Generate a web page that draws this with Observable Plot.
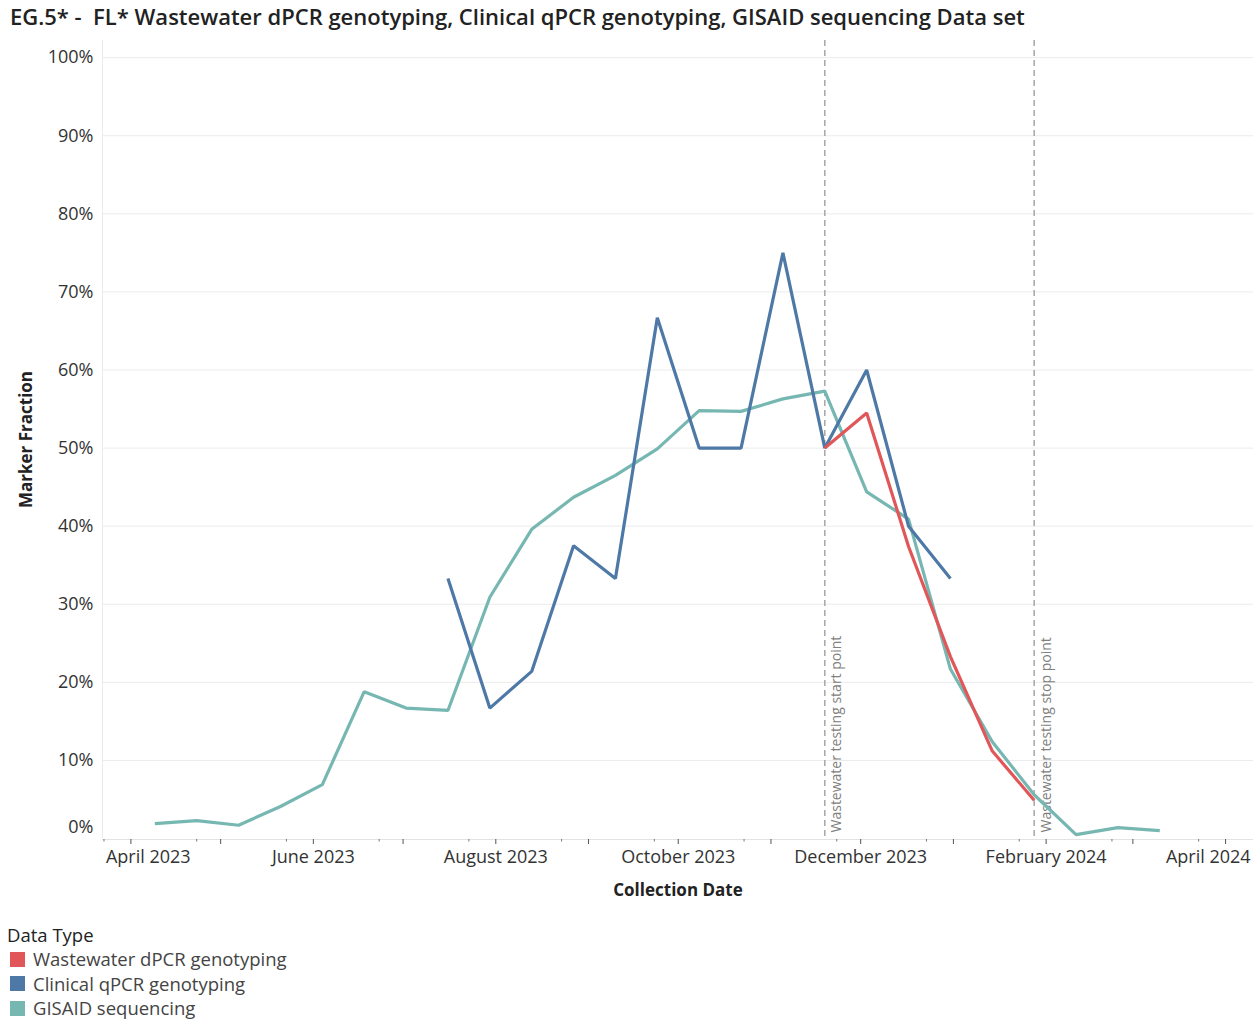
<!DOCTYPE html>
<html>
<head>
<meta charset="utf-8">
<script src="https://cdn.jsdelivr.net/npm/d3@7"></script>
<script src="https://cdn.jsdelivr.net/npm/@observablehq/plot@0.6"></script>
<style>
  body { margin: 0; background: #fff; font-family: "Open Sans", sans-serif; color: #333; }
  #title { height: 36px; line-height: 32px; padding-left: 10px; font-size: 22px; font-weight: 600; color: #222; white-space: pre; }
  #chart svg { display: block; }
  #legend { padding-top: 17px; font-size: 18.5px; color: #333; }
  #legend .head { height: 24px; line-height: 24px; padding-left: 7px; color: #222; }
  #legend .item { height: 24.5px; line-height: 24.5px; padding-left: 10px; display: flex; align-items: center; color: #444; }
  #legend .sw { width: 15px; height: 15px; margin-right: 8px; flex: none; }
</style>
</head>
<body>
<div id="title">EG.5* -  FL* Wastewater dPCR genotyping, Clinical qPCR genotyping, GISAID sequencing Data set</div>
<div id="chart"></div>
<div id="legend"></div>
<script>
// ---- Data (values in percent) ----
const types = ["Wastewater dPCR genotyping", "Clinical qPCR genotyping", "GISAID sequencing"];
const typeColors = ["#e15759", "#4e79a7", "#76b7b2"];

const gisaidDates = ["2023-04-09","2023-04-23","2023-05-07","2023-05-21","2023-06-04","2023-06-18","2023-07-02","2023-07-16","2023-07-30","2023-08-13","2023-08-27","2023-09-10","2023-09-24","2023-10-08","2023-10-22","2023-11-05","2023-11-19","2023-12-03","2023-12-17","2023-12-31","2024-01-14","2024-01-28","2024-02-11","2024-02-25","2024-03-10"];
const gisaidValues = [1.9, 2.3, 1.7, 4.1, 6.9, 18.8, 16.7, 16.4, 30.9, 39.6, 43.7, 46.5, 49.9, 54.8, 54.7, 56.3, 57.3, 44.4, 40.9, 21.7, 12.4, 5.6, 0.5, 1.4, 1.0];

const clinicalDates = ["2023-07-16","2023-07-30","2023-08-13","2023-08-27","2023-09-10","2023-09-24","2023-10-08","2023-10-22","2023-11-05","2023-11-19","2023-12-03","2023-12-17","2023-12-31"];
const clinicalValues = [33.3, 16.7, 21.4, 37.5, 33.3, 66.7, 50.0, 50.0, 75.0, 50.0, 60.0, 40.0, 33.3];

const wastewaterDates = ["2023-11-19","2023-12-03","2023-12-17","2023-12-31","2024-01-14","2024-01-28"];
const wastewaterValues = [50.0, 54.5, 37.4, 23.3, 11.2, 4.9];

const eventDates = ["2023-11-19", "2024-01-28"];
const eventLabels = ["Wastewater testing start point", "Wastewater testing stop point"];

const yTicks = [0, 10, 20, 30, 40, 50, 60, 70, 80, 90, 100];
const monthTicks = ["2023-04-01","2023-05-01","2023-06-01","2023-07-01","2023-08-01","2023-09-01","2023-10-01","2023-11-01","2023-12-01","2024-01-01","2024-02-01","2024-03-01","2024-04-01"];
const minorTicks = ["2023-03-23","2023-04-23","2023-05-23","2023-06-23","2023-07-23","2023-08-23","2023-09-23","2023-10-23","2023-11-23","2023-12-23","2024-01-23","2024-02-23","2024-03-23"];
const labelDates = ["2023-04-01","2023-06-01","2023-08-01","2023-10-01","2023-12-01","2024-02-01","2024-04-01"];
const labelTexts = ["April 2023","June 2023","August 2023","October 2023","December 2023","February 2024","April 2024"];

// ---- Build tables ----
const P = d => new Date(d + "T00:00:00Z");
const rows = [];
gisaidDates.forEach((d, i) => rows.push({date: P(d), value: gisaidValues[i], type: types[2]}));
clinicalDates.forEach((d, i) => rows.push({date: P(d), value: clinicalValues[i], type: types[1]}));
wastewaterDates.forEach((d, i) => rows.push({date: P(d), value: wastewaterValues[i], type: types[0]}));
const events = eventDates.map((d, i) => ({date: P(d), label: eventLabels[i]}));
const labels = labelDates.map((d, i) => ({date: P(d), text: labelTexts[i]}));
const xDomain = [new Date("2023-03-22T12:00:00Z"), new Date("2024-04-10T08:00:00Z")];

const chart = Plot.plot({
  width: 1253,
  height: 870,
  marginTop: 4,
  marginBottom: 68,
  marginLeft: 102,
  marginRight: 0,
  style: {fontFamily: "'Open Sans', sans-serif", fontSize: "18px", color: "#333", background: "#fff", overflow: "visible"},
  x: {type: "utc", domain: xDomain},
  y: {domain: [0, 102.2]},
  color: {domain: types, range: typeColors},
  marks: [
    Plot.gridY(yTicks.slice(1), {stroke: "#ebebeb", strokeOpacity: 1, strokeWidth: 1}),
    Plot.ruleX([xDomain[0]], {stroke: "#ebebeb", strokeWidth: 1}),
    Plot.ruleY([0], {stroke: "#e3e3e3", dy: 1}),
    Plot.axisY(yTicks.slice(1), {tickSize: 0, tickPadding: 9, tickFormat: d => d + "%", label: null, fill: "#333"}),
    Plot.text([0], {y: d => d, text: d => d + "%", frameAnchor: "left", textAnchor: "end", dx: -9, dy: -11, fill: "#333"}),
    Plot.text(["Marker Fraction"], {frameAnchor: "left", rotate: -90, dx: -76, textAnchor: "middle", fontWeight: "bold", fontSize: 17, fill: "#222", lineAnchor: "middle"}),
    Plot.axisX(monthTicks.map(P), {tickSize: 5, tickFormat: () => "", label: null, stroke: "#555", dy: 1}),
    Plot.axisX(minorTicks.map(P), {tickSize: 2.5, tickFormat: () => "", label: null, stroke: "#777", dy: 1}),
    Plot.text(labels.slice(1, -1), {x: "date", text: "text", frameAnchor: "bottom", dy: 19, lineAnchor: "middle", fill: "#333"}),
    Plot.text(labels.slice(0, 1), {x: "date", text: "text", frameAnchor: "bottom", dy: 19, lineAnchor: "middle", textAnchor: "start", dx: -25, fill: "#333"}),
    Plot.text(labels.slice(-1), {x: "date", text: "text", frameAnchor: "bottom", dy: 19, lineAnchor: "middle", textAnchor: "end", dx: 25, fill: "#333"}),
    Plot.text(["Collection Date"], {frameAnchor: "bottom", dy: 52, fontWeight: "bold", fontSize: 17, fill: "#222", lineAnchor: "middle"}),
    Plot.ruleX(events, {x: "date", stroke: "#a6a6a6", strokeWidth: 1.5, strokeDasharray: "6,4"}),
    Plot.text(events, {x: "date", text: "label", frameAnchor: "bottom", rotate: -90, textAnchor: "start", lineAnchor: "middle", dx: 12, dy: -6, fill: "#808080", fontSize: 14}),
    Plot.line(rows, {x: "date", y: "value", stroke: "type", z: "type", strokeWidth: 3.2, strokeLinejoin: "miter", strokeLinecap: "butt"})
  ]
});
document.getElementById("chart").appendChild(chart);

// ---- Legend ----
const legend = document.getElementById("legend");
const head = document.createElement("div");
head.className = "head";
head.textContent = "Data Type";
legend.appendChild(head);
types.forEach((t, i) => {
  const item = document.createElement("div");
  item.className = "item";
  const sw = document.createElement("span");
  sw.className = "sw";
  sw.style.background = typeColors[i];
  const lab = document.createElement("span");
  lab.textContent = t;
  item.appendChild(sw);
  item.appendChild(lab);
  legend.appendChild(item);
});
</script>
</body>
</html>
